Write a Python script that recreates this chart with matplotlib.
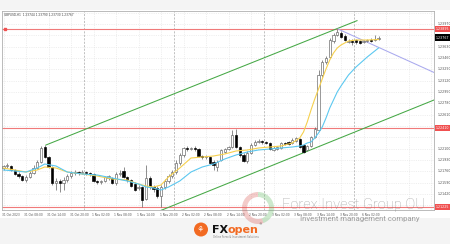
import matplotlib
matplotlib.use('Agg')
import matplotlib.pyplot as plt
from matplotlib.patches import Rectangle, Circle, Wedge
import numpy as np

# GBPUSD H1 candles, 31 Oct 2023 02:00 .. 6 Nov 2023 06:00
opens = [1.2181, 1.2184, 1.2184, 1.2178, 1.2172, 1.2169, 1.2163, 1.21675, 1.21735, 1.2181,
         1.2190, 1.22125, 1.21975, 1.21825, 1.21585, 1.21615, 1.21585, 1.2163, 1.2169, 1.21735,
         1.2175, 1.21735, 1.2175, 1.21735, 1.2172, 1.21615, 1.2160, 1.21615, 1.2166, 1.2166,
         1.21585, 1.2172, 1.21765, 1.21675, 1.2163, 1.2157, 1.2151, 1.21525, 1.21345, 1.2166,
         1.21525, 1.2151, 1.2139, 1.21525, 1.21615, 1.2169, 1.2175, 1.21885, 1.22005, 1.2211,
         1.22095, 1.2211, 1.22095, 1.2199, 1.21975, 1.21975, 1.2190, 1.21825, 1.2193, 1.2205,
         1.22095, 1.22125, 1.22305, 1.22125, 1.22005, 1.21915, 1.22035, 1.22155, 1.2220, 1.22215,
         1.2220, 1.22185, 1.2208, 1.22095, 1.2211, 1.22185, 1.2220, 1.22185, 1.22215, 1.22245,
         1.22155, 1.2208, 1.2214, 1.22275, 1.2238, 1.23205, 1.2340, 1.23475, 1.23715, 1.23805,
         1.23835, 1.2379, 1.2370, 1.23715, 1.2373, 1.23715, 1.2370, 1.23715, 1.2373, 1.2373,
         1.23745]
highs = [1.21855, 1.21885, 1.21855, 1.21795, 1.2175, 1.21705, 1.21705, 1.21765, 1.21855, 1.2193,
         1.2214, 1.22155, 1.2199, 1.2184, 1.2166, 1.21645, 1.21675, 1.2172, 1.21765, 1.2178,
         1.21765, 1.2178, 1.21765, 1.2175, 1.21735, 1.2163, 1.2163, 1.2169, 1.21705, 1.21675,
         1.2175, 1.2178, 1.21825, 1.2169, 1.21645, 1.2160, 1.21555, 1.2154, 1.21855, 1.2169,
         1.21555, 1.2154, 1.21555, 1.21645, 1.2172, 1.2178, 1.2193, 1.22035, 1.22125, 1.2214,
         1.22125, 1.2214, 1.2211, 1.22005, 1.22005, 1.2199, 1.2193, 1.2193, 1.22095, 1.2211,
         1.2214, 1.2238, 1.22395, 1.2214, 1.22035, 1.22065, 1.22185, 1.2223, 1.22245, 1.2223,
         1.22215, 1.2220, 1.2214, 1.2214, 1.2220, 1.2220, 1.22215, 1.2226, 1.22275, 1.2226,
         1.2217, 1.22155, 1.2229, 1.22425, 1.2328, 1.2343, 1.2349, 1.2376, 1.23835, 1.23895,
         1.23865, 1.2382, 1.23745, 1.23745, 1.23745, 1.2373, 1.2373, 1.23745, 1.2376, 1.23805,
         1.2379]
lows = [1.2178, 1.2181, 1.21765, 1.21705, 1.2166, 1.21615, 1.2160, 1.2166, 1.2172, 1.21795,
        1.21885, 1.2196, 1.2181, 1.21555, 1.2148, 1.2145, 1.2148, 1.2160, 1.2166, 1.21705,
        1.21705, 1.2172, 1.21705, 1.2169, 1.2160, 1.2157, 1.2157, 1.2160, 1.2163, 1.2157,
        1.21555, 1.2169, 1.2166, 1.2160, 1.21525, 1.21465, 1.2148, 1.21225, 1.2133, 1.21495,
        1.2145, 1.2136, 1.21225, 1.21495, 1.21585, 1.2166, 1.2172, 1.21855, 1.21975, 1.22065,
        1.2208, 1.22065, 1.21975, 1.21945, 1.21945, 1.2187, 1.2178, 1.21765, 1.21915, 1.22035,
        1.2208, 1.2211, 1.2211, 1.21975, 1.2190, 1.21885, 1.2202, 1.2214, 1.22185, 1.2217,
        1.2217, 1.2208, 1.22065, 1.2208, 1.22095, 1.22155, 1.22155, 1.2217, 1.2220, 1.2211,
        1.22035, 1.22065, 1.22125, 1.2226, 1.22365, 1.23175, 1.2337, 1.2346, 1.23685, 1.2379,
        1.2376, 1.23715, 1.23685, 1.23655, 1.2367, 1.2367, 1.23685, 1.2370, 1.2370, 1.23715,
        1.2373]
closes = [1.2184, 1.21855, 1.2178, 1.2172, 1.2169, 1.2163, 1.21675, 1.21735, 1.2181, 1.2190,
          1.2211, 1.21975, 1.21825, 1.21585, 1.21615, 1.21585, 1.2163, 1.2169, 1.21735, 1.2175,
          1.21735, 1.2175, 1.21735, 1.2172, 1.21615, 1.2160, 1.21615, 1.21675, 1.2169, 1.21585,
          1.2172, 1.21735, 1.21675, 1.2163, 1.2154, 1.2148, 1.21525, 1.2133, 1.2166, 1.21525,
          1.21495, 1.2139, 1.21525, 1.21615, 1.2169, 1.2175, 1.21885, 1.22005, 1.2211, 1.22095,
          1.2211, 1.22095, 1.2199, 1.21975, 1.2199, 1.21885, 1.21855, 1.2190, 1.2208, 1.22095,
          1.22125, 1.22305, 1.22125, 1.22005, 1.21915, 1.22035, 1.22155, 1.2220, 1.22215, 1.2220,
          1.22185, 1.22095, 1.2211, 1.22125, 1.22185, 1.2217, 1.2217, 1.2223, 1.2226, 1.22125,
          1.2205, 1.2214, 1.22275, 1.22395, 1.23205, 1.2340, 1.2346, 1.2373, 1.23805, 1.2385,
          1.23775, 1.2373, 1.23715, 1.2370, 1.2370, 1.23685, 1.23715, 1.2373, 1.23715, 1.23745,
          1.23767]

# moving averages (bar index, price)
ma_bars = [0, 3, 6, 9, 11, 14, 17, 21, 25, 29, 33, 36, 38, 40, 42, 44, 47, 50, 53, 56, 59, 62,
           65, 68, 71, 74, 77, 79, 80, 81, 82, 83, 84, 85, 86, 87, 88, 89, 90, 92, 94, 97, 100]
ma_yellow = [1.2181, 1.2178, 1.2175, 1.2178, 1.21825, 1.2181, 1.2175, 1.2172, 1.2169, 1.21645,
             1.2163, 1.2157, 1.2154, 1.21525, 1.21555, 1.21675, 1.2181, 1.2196, 1.21975, 1.2199,
             1.2202, 1.22065, 1.2208, 1.2211, 1.22125, 1.2214, 1.22185, 1.2226, 1.2235, 1.2250,
             1.2268, 1.22845, 1.22995, 1.23145, 1.23295, 1.2343, 1.23535, 1.2361, 1.23655, 1.23715,
             1.2373, 1.2373, 1.237375]
ma_blue = [1.2178, 1.21765, 1.2175, 1.2181, 1.2187, 1.2184, 1.2175, 1.2172, 1.21705, 1.2166,
           1.21615, 1.2157, 1.21525, 1.2151, 1.2148, 1.21525, 1.21615, 1.2175, 1.21825, 1.2187,
           1.21945, 1.22005, 1.2205, 1.2208, 1.22095, 1.2211, 1.22125, 1.2214, 1.22155, 1.22185,
           1.2220, 1.2226, 1.22335, 1.22425, 1.2256, 1.2271, 1.2283, 1.2295, 1.2304, 1.23205,
           1.23325, 1.23475, 1.2361]

# drawn objects
hlines = [1.23895, 1.2241, 1.21225]
channel_up = ([11.33, 94.27], [1.22155, 1.2402])
channel_dn = ([40.93, 114.8], [1.2115, 1.2283])
trend_line = ([89.2, 114.8], [1.23895, 1.23243])

price_ticks = [1.2397, 1.2363, 1.2346, 1.2329, 1.2312, 1.2295, 1.2278, 1.2261,
               1.2210, 1.2193, 1.2176, 1.2159, 1.2142]
time_labels = ['31 Oct 2023', '31 Oct 08:00', '31 Oct 14:00', '31 Oct 20:00',
               '1 Nov 02:00', '1 Nov 08:00', '1 Nov 14:00', '1 Nov 20:00',
               '2 Nov 02:00', '2 Nov 08:00', '2 Nov 14:00', '2 Nov 20:00',
               '3 Nov 02:00', '3 Nov 08:00', '3 Nov 14:00', '3 Nov 20:00', '6 Nov 02:00']
day_breaks = [22, 46, 70, 94]

W, H = 450, 244
fig = plt.figure(figsize=(W / 100, H / 100), dpi=100, facecolor='#f4f4f4')
fig.patches.append(Rectangle((0, (H - 218) / H), 1, 208 / H, transform=fig.transFigure,
                             facecolor='white', edgecolor='none', zorder=-10))

ax = fig.add_axes([2 / W, (H - 210) / H, 432 / W, 199 / H])
ax.set_facecolor('white')
n = len(closes)
x = np.arange(n)
ax.set_xlim(-0.4, 114.8)
ax.set_ylim(1.2118, 1.24165)

# grid
for t in range(0, 115, 6):
    ax.axvline(t, color='#e2e2e2', lw=0.4, ls=(0, (2, 2)), zorder=0)
for p in np.arange(1.2125, 1.2415, 0.0017):
    ax.axhline(p, color='#e2e2e2', lw=0.4, ls=(0, (2, 2)), zorder=0)
for d in day_breaks:
    ax.axvline(d - 0.5, color='#a8a8a8', lw=0.5, ls=(0, (3, 2)), zorder=0)

for h in hlines:
    ax.axhline(h, color='#f07a7a', lw=0.8, zorder=1)
ax.plot([0.4], [hlines[0]], marker='s', ms=1.6, color='#f05050', zorder=6)

ax.plot(*channel_up, color='#45a845', lw=0.75, zorder=2)
ax.plot(*channel_dn, color='#45a845', lw=0.75, zorder=2)
ax.plot(*trend_line, color='#a9a9ee', lw=0.75, zorder=2)

# candles
o = np.array(opens); c = np.array(closes)
hi = np.array(highs); lo = np.array(lows)
up = c >= o
ax.vlines(x, lo, hi, color='#606060', lw=0.5, zorder=3)
body_b = np.minimum(o, c)
body_h = np.maximum(np.abs(c - o), 0.00003)
ax.bar(x[up], body_h[up], bottom=body_b[up], width=0.62, color='white',
       edgecolor='#606060', lw=0.45, zorder=4)
ax.bar(x[~up], body_h[~up], bottom=body_b[~up], width=0.62, color='black',
       edgecolor='black', lw=0.45, zorder=4)

ax.plot(ma_bars, ma_yellow, color='#f6d04d', lw=0.8, zorder=5)
ax.plot(ma_bars, ma_blue, color='#5cc8f0', lw=0.8, zorder=5)

ax.set_xticks([])
ax.set_yticks([])
for s in ax.spines.values():
    s.set_color('#b0b0b0')
    s.set_linewidth(0.6)

# right price scale
for p in price_ticks:
    ax.annotate(f'{p:.5f}', xy=(1.0, p), xycoords=('axes fraction', 'data'),
                xytext=(2.5, 0), textcoords='offset points', fontsize=2.3,
                color='#505050', va='center', ha='left', annotation_clip=False)
for h in hlines:
    ax.annotate(f'{h:.5f}', xy=(1.0, h), xycoords=('axes fraction', 'data'),
                xytext=(1.5, 0), textcoords='offset points', fontsize=2.3,
                color='white', va='center', ha='left', annotation_clip=False,
                bbox=dict(boxstyle='square,pad=0.35', fc='#f05050', ec='none'))
ax.annotate(f'{closes[-1]:.5f}', xy=(1.0, closes[-1]), xycoords=('axes fraction', 'data'),
            xytext=(1.5, 0), textcoords='offset points', fontsize=2.3,
            color='white', va='center', ha='left', annotation_clip=False,
            bbox=dict(boxstyle='square,pad=0.35', fc='black', ec='none'))

# time scale
for i, lab in enumerate(time_labels):
    ax.annotate(lab, xy=(i * 6 - 0.4, 0), xycoords=('data', 'axes fraction'),
                xytext=(0, -2.2), textcoords='offset points', fontsize=2.1,
                color='#505050', va='top', ha='left', annotation_clip=False)

ax.text(0.004, 0.992, 'GBPUSD,H1  1.23744 1.23790 1.23730 1.23767', transform=ax.transAxes,
        fontsize=2.1, color='#404040', va='top', ha='left')

# watermark (positions in inches so circles stay round)
inch = fig.dpi_scale_trans
wm_c = (258 / 100, (H - 208) / 100)
fig.patches.append(Wedge(wm_c, 0.16, 90, 290, width=0.05, transform=inch,
                         fc='#d9534f', alpha=0.3, ec='none', zorder=10))
fig.patches.append(Wedge(wm_c, 0.16, 290, 90, width=0.05, transform=inch,
                         fc='#5cb85c', alpha=0.3, ec='none', zorder=10))
fig.text(282 / W, (H - 205) / H, 'Forex Invest Group OU', fontsize=10.5,
         family='Roboto', weight='light', color='#858585', alpha=0.7,
         va='center', ha='left', zorder=11)
fig.text(300 / W, (H - 219) / H, 'Investment management company', fontsize=5.6,
         family='Roboto', color='#8c8c8c', alpha=0.85, va='center', ha='left', zorder=11)

# FXOpen logo
fig.patches.append(Circle((201 / 100, (H - 229.5) / 100), 0.07, transform=inch,
                          fc='#f26a22', ec='none'))
fig.text(201 / W, (H - 229.5) / H, '⚘', fontsize=6, color='white', ha='center', va='center')
fig.text(212 / W, (H - 230) / H, 'FX', fontsize=8, weight='bold', color='#111111',
         ha='left', va='center')
fig.text(227 / W, (H - 230) / H, 'open', fontsize=8, weight='bold', color='#f26a22',
         ha='left', va='center')
fig.text(259 / W, (H - 224) / H, '®', fontsize=2.5, color='#555555', ha='left', va='center')
fig.text(213 / W, (H - 237) / H, 'Online Forex & Investment Solutions', fontsize=1.8,
         color='#777777', ha='left', va='center')

fig.savefig('out.png', dpi=100, facecolor=fig.get_facecolor())
